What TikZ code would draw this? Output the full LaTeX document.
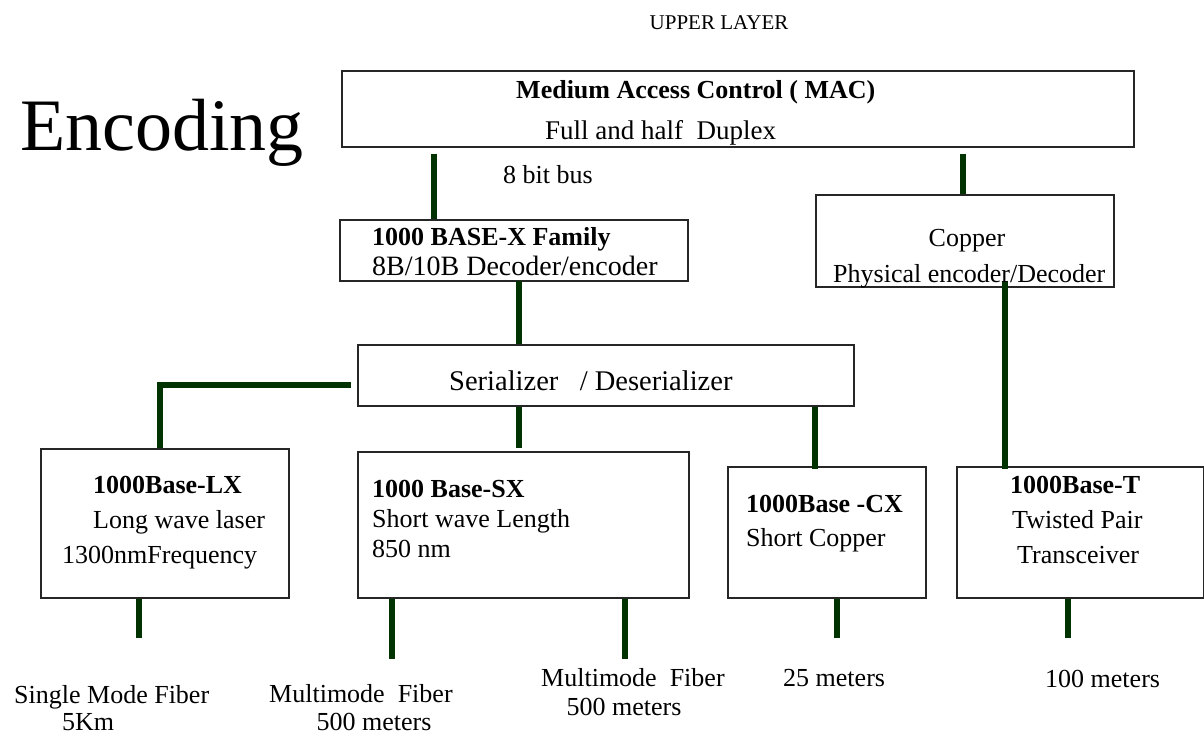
\documentclass[tikz,border=0pt]{standalone}
\usepackage{fontspec}
\setmainfont{Liberation Serif}
\definecolor{conn}{RGB}{0,51,0}
\begin{document}
\begin{tikzpicture}[x=1pt,y=-1pt,
  box/.style={draw=black!85, line width=1.6pt, fill=white, inner sep=0pt, anchor=north west},
  wire/.style={draw=conn, line width=6pt},
  txt/.style={inner sep=0pt, anchor=base west, font=\fontsize{26}{30}\selectfont},
  btxt/.style={txt, font=\fontsize{26}{30}\selectfont\bfseries},
  ctxt/.style={txt, anchor=base}]
\useasboundingbox (0,0) rectangle (1204,734);
% boxes
\node[box, minimum width=792pt, minimum height=76pt] (mac) at (341,70) {};
\node[box, minimum width=348pt, minimum height=61pt] (basex) at (339,219) {};
\node[box, minimum width=298pt, minimum height=92pt] (copper) at (815,194) {};
\node[box, minimum width=496pt, minimum height=61pt] (serdes) at (357,344) {};
\node[box, minimum width=248pt, minimum height=149pt] (lx) at (40,448) {};
\node[box, minimum width=331pt, minimum height=146pt] (sx) at (357,451) {};
\node[box, minimum width=198pt, minimum height=131pt] (cx) at (727,466) {};
\node[box, minimum width=247pt, minimum height=131pt] (bt) at (956,466) {};
% free ends
\coordinate (lxend) at (139,638);
\coordinate (sxaend) at (392,659);
\coordinate (sxbend) at (625,659);
\coordinate (cxend) at (837,638);
\coordinate (btend) at (1068,638);
\coordinate (lxturn) at (160,385);
% connectors
\draw[wire] ([yshift=-6pt]mac.south -| 434,0) -- (basex.north -| 434,0);
\draw[wire] ([yshift=-6pt]mac.south -| 963,0) -- (copper.north -| 963,0);
\draw[wire] ([yshift=1pt]basex.south -| 519,0) -- (serdes.north -| 519,0);
\draw[wire] ([yshift=7pt]copper.south -| 1005,0) -- ([yshift=-3pt]bt.north -| 1005,0);
\draw[wire] ([xshift=-6pt]serdes.west |- lxturn) -- (lxturn) -- (lx.north -| lxturn);
\draw[wire] (serdes.south -| 519,0) -- ([yshift=3pt]sx.north -| 519,0);
\draw[wire] (serdes.south -| 815,0) -- ([yshift=-3pt]cx.north -| 815,0);
\draw[wire] (lx.south -| lxend) -- (lxend);
\draw[wire] (sx.south -| sxaend) -- (sxaend);
\draw[wire] (sx.south -| sxbend) -- (sxbend);
\draw[wire] (cx.south -| cxend) -- (cxend);
\draw[wire] (bt.south -| btend) -- (btend);
% texts
\node[ctxt, font=\fontsize{21}{25}\selectfont] (upper) at (719,29) {UPPER LAYER};
\node[txt, font=\fontsize{74}{80}\selectfont] (enc) at (20,150) {Encoding};
\node[btxt] (mac1) at (516,98) {Medium Access Control ( MAC)};
\node[txt, font=\fontsize{27}{30}\selectfont] (mac2) at (545,139) {Full and half~ Duplex};
\node[txt] (bus) at (503,183) {8 bit bus};
\node[btxt] (bx1) at (372,245) {1000 BASE-X Family};
\node[txt, font=\fontsize{28}{30}\selectfont] (bx2) at (372,275) {8B/10B Decoder/encoder};
\node[ctxt] (cu1) at (967,246) {Copper};
\node[txt] (cu2) at (833,282) {Physical encoder/Decoder};
\node[txt, font=\fontsize{28.5}{30}\selectfont] (sd) at (449,390) {Serializer~~ / Deserializer};
\node[btxt] (lx1) at (93,493) {1000Base-LX};
\node[txt] (lx2) at (93,528) {Long wave laser};
\node[txt] (lx3) at (62,563) {1300nmFrequency};
\node[btxt] (sx1) at (372,497) {1000 Base-SX};
\node[txt] (sx2) at (372,527) {Short wave Length};
\node[txt] (sx3) at (372,557) {850 nm};
\node[btxt] (cx1) at (746,512) {1000Base -CX};
\node[txt] (cx2) at (746,546) {Short Copper};
\node[btxt] (bt1) at (1010,493) {1000Base-T};
\node[txt] (bt2) at (1012,528) {Twisted Pair};
\node[txt] (bt3) at (1017,563) {Transceiver};
\node[txt] (m1a) at (14,703) {Single Mode Fiber};
\node[ctxt] (m1b) at (88,730) {5Km};
\node[txt] (m2a) at (269,702) {Multimode~ Fiber};
\node[ctxt] (m2b) at (374,730) {500 meters};
\node[txt] (m3a) at (541,686) {Multimode~ Fiber};
\node[ctxt] (m3b) at (624,715) {500 meters};
\node[txt] (m4) at (783,686) {25 meters};
\node[txt] (m5) at (1045,687) {100 meters};
\end{tikzpicture}
\end{document}
